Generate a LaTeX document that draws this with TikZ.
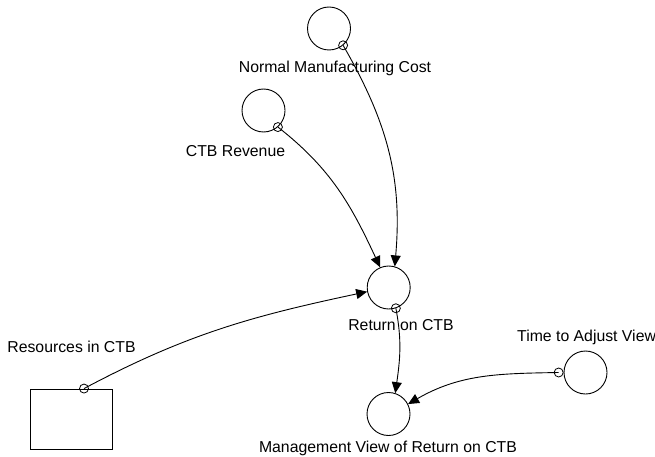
\documentclass[tikz,border=0pt]{standalone}
\usepackage{fontspec}
\setmainfont{Liberation Sans}
\usetikzlibrary{arrows.meta}

\begin{document}
\begin{tikzpicture}[x=1pt, y=-1pt,
  aux/.style={circle, draw, line width=0.9pt, minimum size=43pt, inner sep=0pt},
  stock/.style={rectangle, draw, line width=0.9pt, minimum width=82.7pt, minimum height=60pt, inner sep=0pt},
  lbl/.style={inner sep=0pt, anchor=base, font=\fontsize{15.8}{19}\selectfont},
  origin/.style={circle, draw, line width=0.8pt, minimum size=9pt, inner sep=0pt},
  link/.style={line width=0.9pt, -{Triangle[length=11pt, width=10pt]}}
]
\useasboundingbox (0,0) rectangle (655,457);

% variables
\node[aux] (nmc)  at (329, 28.5) {};
\node[aux] (rev)  at (263.5, 110.5) {};
\node[aux] (ret)  at (388.7, 287.5) {};
\node[aux] (mgmt) at (388.5, 414) {};
\node[aux] (tav)  at (585.5, 372.5) {};
\node[stock] (res) at (71.3, 419) {};

% labels
\node[lbl] (nmcL)  at (335, 72.3)  {Normal Manufacturing Cost};
\node[lbl] (revL)  at (235.5, 156.7) {CTB Revenue};
\node[lbl] (retL)  at (401, 330)   {Return on CTB};
\node[lbl, anchor=base west] (tavL) at (517, 341) {Time to Adjust View};
\node[lbl] (mgmtL) at (388, 452.5) {Management View of Return on CTB};
\node[lbl] (resL)  at (71.5, 352.7) {Resources in CTB};

% link origins
\node[origin] (nmcO) at (nmc.-50) {};
\node[origin] (revO) at (rev.-49) {};
\node[origin] (resO) at ([xshift=12.7pt]res.north) {};
\node[origin] (retO) at (ret.-71) {};
\node[origin, anchor=east] (tavO) at (tav.west) {};

% causal links
\draw[link] (nmcO.center) to[out=-60, in=85] (ret.74);
\draw[link] (revO.center) to[out=-38, in=115] (ret.113);
\draw[link] (resO.center) to[out=28, in=192] (ret.191);
\draw[link] (retO.center) to[out=-79, in=82] (mgmt.72);
\draw[link] (tavO.center) to[out=181, in=30] (mgmt.27);
\end{tikzpicture}
\end{document}
